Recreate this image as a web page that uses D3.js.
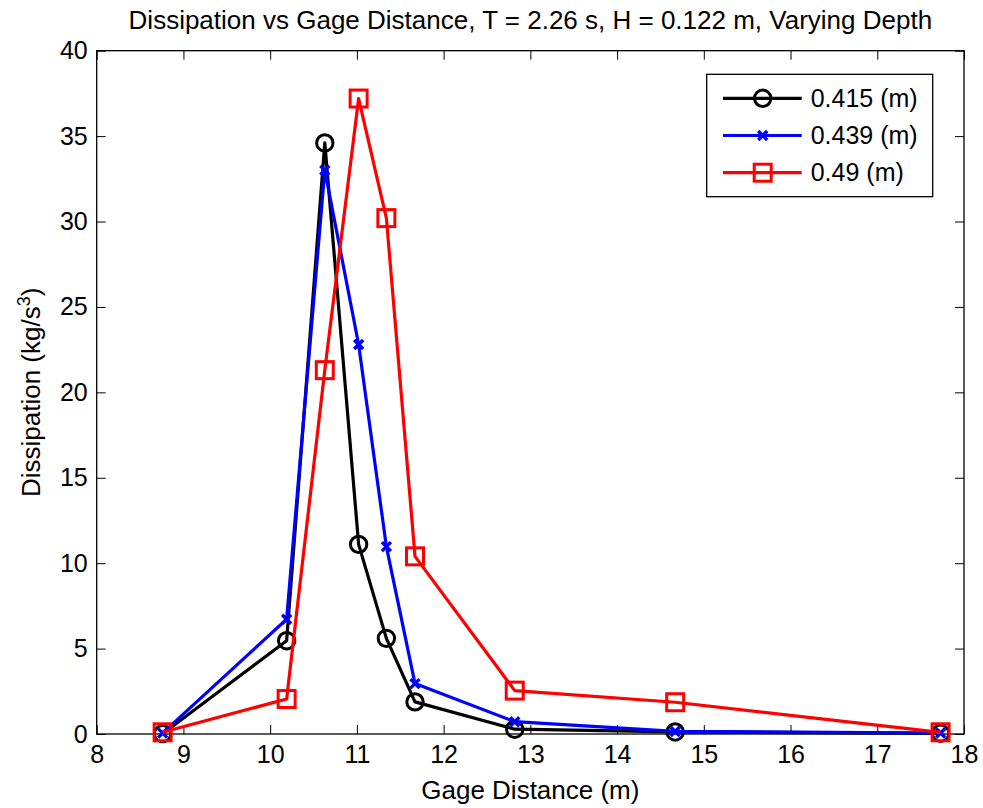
<!DOCTYPE html>
<html>
<head>
<meta charset="utf-8">
<script src="https://cdn.jsdelivr.net/npm/d3@7"></script>
<style>
  body { margin: 0; background: #fff; }
  text { font-family: "Liberation Sans", Arial, Helvetica, sans-serif; fill: #000; }
</style>
</head>
<body>
<div id="chart"></div>
<script>
// Gage distances (m) and dissipation (kg/s^3) for each depth
var gageDist = [8.76, 10.19, 10.63, 11.02, 11.34, 11.67, 12.82, 14.67, 17.73];
var diss0415 = [0.02, 5.46, 34.6, 11.1, 5.6, 1.88, 0.28, 0.12, 0.04];
var diss0439 = [0.05, 6.72, 33.0, 22.8, 10.97, 2.95, 0.72, 0.15, 0.06];
var diss049  = [0.1, 2.05, 21.3, 37.2, 30.2, 10.4, 2.54, 1.86, 0.1];
var seriesNames = ["0.415 (m)", "0.439 (m)", "0.49 (m)"];
var xTicks = [8, 9, 10, 11, 12, 13, 14, 15, 16, 17, 18];
var yTicks = [0, 5, 10, 15, 20, 25, 30, 35, 40];

var series = [
  {name: seriesNames[0], values: diss0415, color: "#000000", marker: "circle"},
  {name: seriesNames[1], values: diss0439, color: "#0000ff", marker: "x"},
  {name: seriesNames[2], values: diss049,  color: "#ff0000", marker: "square"}
];

var W = 983, H = 808;
var margin = {top: 50.7, right: 19, bottom: 74, left: 96.7};
var width = W - margin.left - margin.right,
    height = H - margin.top - margin.bottom;

var svg = d3.select("#chart").append("svg")
    .attr("width", W)
    .attr("height", H);

var g = svg.append("g")
    .attr("transform", "translate(" + margin.left + "," + margin.top + ")");

var x = d3.scaleLinear().domain([8, 18]).range([0, width]);
var y = d3.scaleLinear().domain([0, 40]).range([height, 0]);

// box
g.append("rect")
    .attr("width", width).attr("height", height)
    .attr("fill", "none").attr("stroke", "#000").attr("stroke-width", 1.3);

// axes with inward ticks, mirrored on top and right
var xAxis = g.append("g")
    .attr("transform", "translate(0," + height + ")")
    .call(d3.axisBottom(x).tickValues(xTicks).tickSizeInner(-9).tickSizeOuter(0).tickPadding(11));
var xTop = g.append("g")
    .call(d3.axisTop(x).tickValues(xTicks).tickSizeInner(-9).tickSizeOuter(0).tickFormat(""));
var yAxis = g.append("g")
    .call(d3.axisLeft(y).tickValues(yTicks).tickSizeInner(-9).tickSizeOuter(0).tickPadding(9));
var yRight = g.append("g")
    .attr("transform", "translate(" + width + ",0)")
    .call(d3.axisRight(y).tickValues(yTicks).tickSizeInner(-9).tickSizeOuter(0).tickFormat(""));

[xAxis, xTop, yAxis, yRight].forEach(function(a) {
  a.select(".domain").remove();
  a.selectAll(".tick line").attr("stroke", "#000").attr("stroke-width", 1);
  a.selectAll(".tick text")
    .style("font-family", "'Liberation Sans', Arial, sans-serif")
    .style("font-size", "25px").attr("fill", "#000");
});

// lines
var line = d3.line()
    .x(function(d, i) { return x(gageDist[i]); })
    .y(function(d) { return y(d); });

function drawMarker(sel, type, color) {
  if (type === "circle") {
    sel.append("circle").attr("r", 8.2)
      .attr("fill", "none").attr("stroke", color).attr("stroke-width", 3);
  } else if (type === "square") {
    sel.append("rect").attr("x", -8.5).attr("y", -8.5).attr("width", 17).attr("height", 17)
      .attr("fill", "none").attr("stroke", color).attr("stroke-width", 3);
  } else {
    sel.append("path").attr("d", "M-4.5,-4.5L4.5,4.5M-4.5,4.5L4.5,-4.5")
      .attr("fill", "none").attr("stroke", color).attr("stroke-width", 3.4);
  }
}

series.forEach(function(s) {
  g.append("path")
    .datum(s.values)
    .attr("d", line)
    .attr("fill", "none")
    .attr("stroke", s.color)
    .attr("stroke-width", 3.2)
    .attr("stroke-linejoin", "round");

  g.selectAll(null)
    .data(s.values)
    .enter().append("g")
    .attr("transform", function(d, i) { return "translate(" + x(gageDist[i]) + "," + y(d) + ")"; })
    .each(function() { drawMarker(d3.select(this), s.marker, s.color); });
});

// title and axis labels
svg.append("text")
    .attr("x", margin.left + width / 2).attr("y", 29)
    .attr("text-anchor", "middle")
    .style("font-size", "26px")
    .text("Dissipation vs Gage Distance, T = 2.26 s, H = 0.122 m, Varying Depth");

svg.append("text")
    .attr("x", margin.left + width / 2).attr("y", 799)
    .attr("text-anchor", "middle")
    .style("font-size", "26px")
    .text("Gage Distance (m)");

var yl = svg.append("text")
    .attr("transform", "translate(40," + (margin.top + height / 2) + ") rotate(-90)")
    .attr("text-anchor", "middle")
    .style("font-size", "26px");
yl.append("tspan").text("Dissipation (kg/s");
yl.append("tspan").attr("dy", -10).style("font-size", "18px").text("3");
yl.append("tspan").attr("dy", 10).text(")");

// legend
var legend = svg.append("g").attr("transform", "translate(706.7,74.3)");
legend.append("rect")
    .attr("width", 226).attr("height", 122.4)
    .attr("fill", "#fff").attr("stroke", "#000").attr("stroke-width", 1.3);

series.forEach(function(s, i) {
  var ly = 24 + i * 37.2;
  var row = legend.append("g").attr("transform", "translate(0," + ly + ")");
  row.append("line")
    .attr("x1", 16.3).attr("x2", 95)
    .attr("stroke", s.color).attr("stroke-width", 3.2);
  var m = row.append("g").attr("transform", "translate(56,0)");
  drawMarker(m, s.marker, s.color);
  row.append("text")
    .attr("x", 104).attr("y", 8.7)
    .style("font-size", "25px")
    .text(s.name);
});
</script>
</body>
</html>
